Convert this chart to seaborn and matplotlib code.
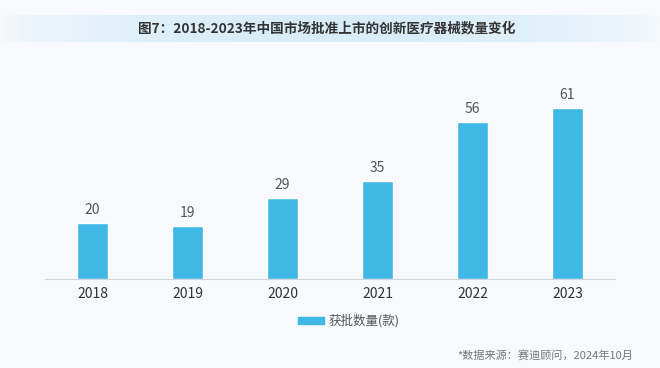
import matplotlib
matplotlib.use("Agg")
import matplotlib.pyplot as plt
import numpy as np
import pandas as pd
import seaborn as sns
from matplotlib.colors import LinearSegmentedColormap
from matplotlib.patches import Rectangle

# ── Data ─────────────────────────────────────────────────────────────
years = ["2018", "2019", "2020", "2021", "2022", "2023"]
approved = [20, 19, 29, 35, 56, 61]

title = "图7：2018-2023年中国市场批准上市的创新医疗器械数量变化"
legend_label = "获批数量(款)"
source = "*数据来源：赛迪顾问，2024年10月"

BAR = "#3fb8e6"
BG = "#f7f9fc"

sns.set_theme(style="white")
plt.rcParams["font.family"] = ["Noto Sans CJK SC", "DejaVu Sans"]

df = pd.DataFrame({"year": years, "count": approved})

fig = plt.figure(figsize=(6.6, 3.68), dpi=100)
fig.patch.set_facecolor(BG)

# title band with horizontal gradient
band = fig.add_axes([0.0, 1 - 42 / 368, 1.0, 27 / 368])
grad = np.sin(np.linspace(0, np.pi, 256)) ** 0.6
cmap = LinearSegmentedColormap.from_list("band", [BG, "#d8edf8"])
band.imshow(grad[None, :], aspect="auto", cmap=cmap, extent=[0, 1, 0, 1])
band.axis("off")
band.text(327 / 660, 0.5, title, ha="center", va="center", fontsize=9.8,
          fontweight="bold", color="#333333", transform=band.transAxes)

# bars
ax = fig.add_axes([45 / 660, 1 - 279 / 368, 570 / 660, 210 / 368])
ax.set_facecolor("none")
sns.barplot(data=df, x="year", y="count", color=BAR, width=0.32,
            saturation=1, ax=ax)
ax.set_ylim(0, 75)
ax.set_xlim(-0.5, len(years) - 0.5)
for i, v in enumerate(approved):
    ax.text(i, v + 2.2, str(v), ha="center", va="bottom", fontsize=10,
            color="#555555")
ax.set_xlabel("")
ax.set_ylabel("")
ax.set_yticks([])
ax.tick_params(axis="x", length=0, labelsize=10, labelcolor="#333333", pad=6)
for s in ["top", "right", "left"]:
    ax.spines[s].set_visible(False)
ax.spines["bottom"].set_color("#d0d4d8")
ax.spines["bottom"].set_linewidth(0.8)

# legend
fig.patches.append(Rectangle((298 / 660, 1 - 324 / 368), 26 / 660, 7 / 368,
                             transform=fig.transFigure, color=BAR))
fig.text(329 / 660, 1 - 320.5 / 368, legend_label, ha="left", va="center",
         fontsize=9, color="#555555")

# source
fig.text(633 / 660, 1 - 355 / 368, source, ha="right", va="center",
         fontsize=8, color="#777777")

fig.savefig("out.png", dpi=100, facecolor=fig.get_facecolor())
